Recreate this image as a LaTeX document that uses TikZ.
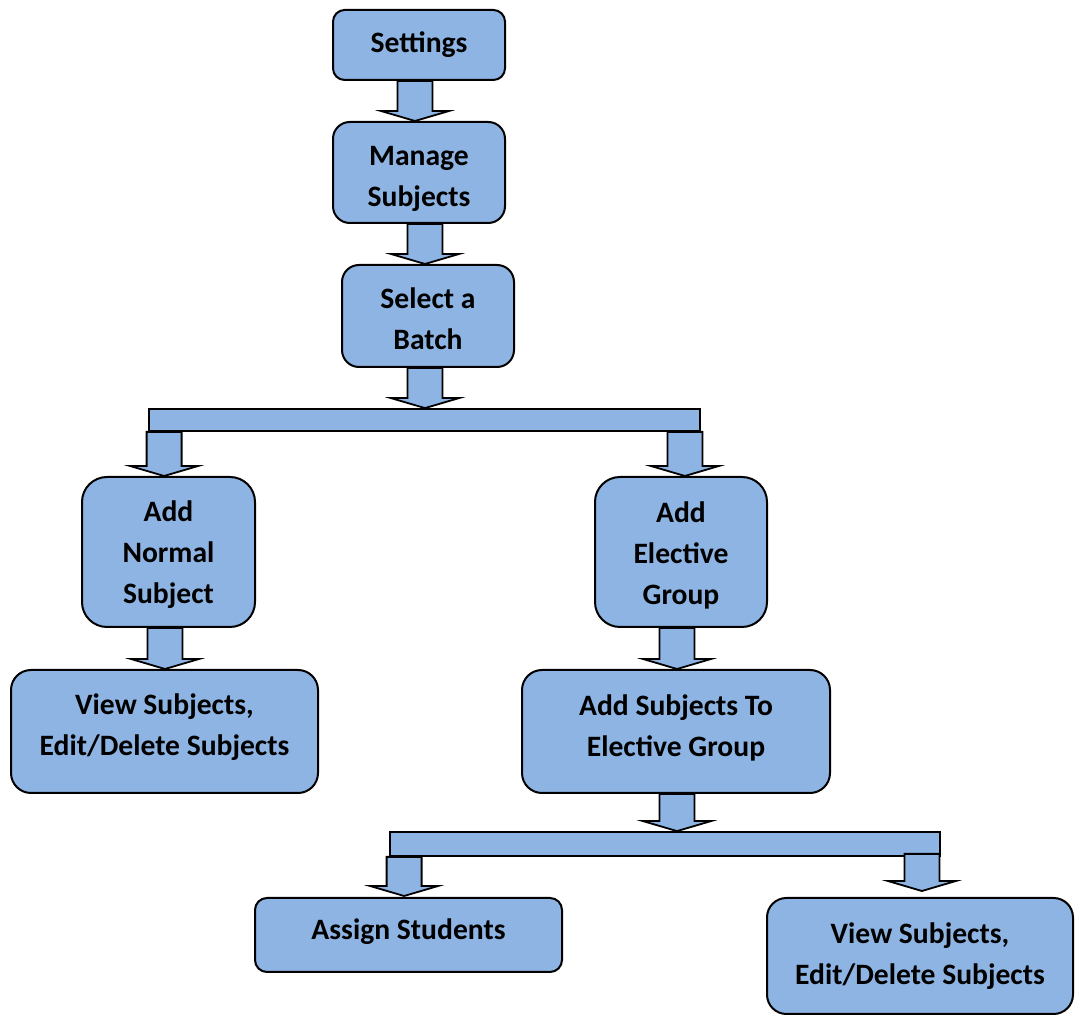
\documentclass[tikz,border=0pt]{standalone}
\usepackage{fontspec}
\setmainfont{Carlito}
\usetikzlibrary{calc}
\definecolor{boxblue}{HTML}{8EB4E3}
\tikzset{
 box/.style={draw=black, line width=1pt, fill=boxblue, inner sep=0pt},
 lbl/.style={align=center, inner sep=0pt, font=\bfseries\fontsize{14.8}{20.5}\selectfont},
 blockarr/.style={draw=black, line width=0.9pt, fill=boxblue, line join=miter},
 barshape/.style={draw=black, line width=0.9pt, fill=boxblue, inner sep=0pt}
}
\newcommand\blockarrow[2]{%
 \path[blockarr] let \p1=#1, \p2=#2 in (\x1-8.75pt,\y1) -- (\x1-8.75pt,\y2+5pt) -- (\x1-17pt,\y2+5pt) -- (\x1,\y2) -- (\x1+17pt,\y2+5pt) -- (\x1+8.75pt,\y2+5pt) -- (\x1+8.75pt,\y1) -- cycle;}
\begin{document}
\begin{tikzpicture}[x=0.5pt,y=-0.5pt]
\useasboundingbox (0,0) rectangle (1078,1015);
% boxes
\node[box, minimum width=86pt, minimum height=35pt, rounded corners=5.8pt,
  label={[lbl]center:Settings}] (settings) at (419,45) {};
\node[box, minimum width=86pt, minimum height=50.5pt, rounded corners=8.4pt,
  label={[lbl,yshift=-3pt]center:Manage\\Subjects}] (manage) at (419,172.5) {};
\node[box, minimum width=86pt, minimum height=51pt, rounded corners=8.5pt,
  label={[lbl,yshift=-1.5pt]center:Select a\\Batch}] (batch) at (428,316) {};
\node[box, minimum width=86.5pt, minimum height=75pt, rounded corners=12.5pt,
  label={[lbl,yshift=-1.5pt]center:Add\\Normal\\Subject}] (normal) at (168.5,552) {};
\node[box, minimum width=86pt, minimum height=75pt, rounded corners=12.5pt,
  label={[lbl,yshift=-1.5pt]center:Add\\Elective\\Group}] (elective) at (681,552) {};
\node[box, minimum width=153.5pt, minimum height=61.5pt, rounded corners=10pt,
  label={[lbl,yshift=2pt]center:View Subjects,\\Edit/Delete Subjects}] (viewL) at (164.5,731.5) {};
\node[box, minimum width=154pt, minimum height=61.5pt, rounded corners=10pt,
  label={[lbl,yshift=2pt]center:Add Subjects To\\Elective Group}] (addto) at (676,731.5) {};
\node[box, minimum width=153.5pt, minimum height=37pt, rounded corners=6pt,
  label={[lbl,yshift=1.5pt]center:Assign Students}] (assign) at (408.5,935) {};
\node[box, minimum width=153pt, minimum height=58pt, rounded corners=9.7pt,
  label={[lbl]center:View Subjects,\\Edit/Delete Subjects}] (viewR) at (920,956) {};
% bars
\node[barshape, minimum width=275.5pt, minimum height=11pt] (bar1) at (424.5,420) {};
\node[barshape, minimum width=275pt, minimum height=12pt] (bar2) at (665,844) {};
% arrows
\blockarrow{([xshift=-2pt]settings.south)}{(manage.north)}
\blockarrow{([xshift=3pt]manage.south)}{(batch.north)}
\blockarrow{([xshift=-1.5pt]batch.south)}{(bar1.north)}
\blockarrow{([xshift=8pt]bar1.south west)}{(normal.north)}
\blockarrow{([xshift=-8pt]bar1.south east)}{(elective.north)}
\blockarrow{([xshift=-1.75pt]normal.south)}{(viewL.north)}
\blockarrow{([xshift=-2pt]elective.south)}{(addto.north)}
\blockarrow{([xshift=0.5pt]addto.south)}{(bar2.north)}
\blockarrow{([xshift=7.5pt]bar2.south west)}{([yshift=0.5pt]assign.north)}
\blockarrow{([xshift=-9.5pt,yshift=1.5pt]bar2.south east)}{([yshift=3pt]viewR.north)}
\end{tikzpicture}
\end{document}
